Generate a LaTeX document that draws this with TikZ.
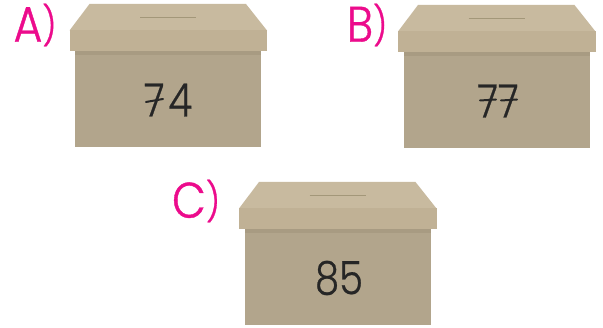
\documentclass[tikz,border=0pt]{standalone}
\usepackage{fontspec}
\newfontfamily\numfont[FakeStretch=0.84,FakeBold=0.5]{Poppins Light}
\newfontfamily\letfont[FakeStretch=0.88,FakeBold=0.8]{Poppins Light}
\newcommand{\paren}{{\fontsize{38}{38}\selectfont\raisebox{2.5pt}{)}}}
\definecolor{lidtop}{HTML}{C8BA9F}
\definecolor{lidband}{HTML}{C0B195}
\definecolor{boxbody}{HTML}{B2A58C}
\definecolor{boxshade}{HTML}{A89B82}
\definecolor{slotline}{HTML}{A39779}
\definecolor{labelpink}{HTML}{EC0B8C}
\definecolor{inkdark}{HTML}{262626}
\tikzset{
  x=1pt,y=-1pt,
  number/.style={font=\numfont\fontsize{46}{46}\selectfont,text=inkdark,inner sep=0pt,anchor=center},
  letter/.style={font=\letfont\fontsize{50}{50}\selectfont,text=labelpink,inner sep=0pt,anchor=center},
  crossbar/.style={draw=inkdark,line width=2pt,line cap=round},
  pics/ballot/.style={code={
    \fill[boxbody] (75,51) rectangle (261,147);
    \fill[boxshade] (75,51) rectangle (261,55);
    \fill[lidtop] (89.5,4) -- (246,4) -- (267,30.5) -- (69.5,30.5) -- cycle;
    \fill[lidband] (69.5,30.5) rectangle (267,51);
    \draw[slotline,line width=0.7pt] (140,17) -- (196,17);
  }}
}
\begin{document}
\begin{tikzpicture}
\useasboundingbox (0,0) rectangle (603,328);
\fill[white] (0,0) rectangle (603,328);
\pic at (0,0) {ballot};
\pic at (328.5,1) {ballot};
\pic at (169.5,178) {ballot};
\node[letter] (la) at (35,25) {A\paren};
\node[letter] (lb) at (367,25) {B\paren};
\node[letter] (lc) at (196,201) {C\paren};
\node[number] (na) at (168,100) {7\kern4pt 4};
\node[number] (nb) at (498,101) {77};
\node[number] (nc) at (339,278) {85};
\draw[crossbar] (146,102) -- (163,99);
\draw[crossbar] (480,100.5) -- (496,99.5);
\draw[crossbar] (501,100.5) -- (517,99.5);
\end{tikzpicture}
\end{document}
